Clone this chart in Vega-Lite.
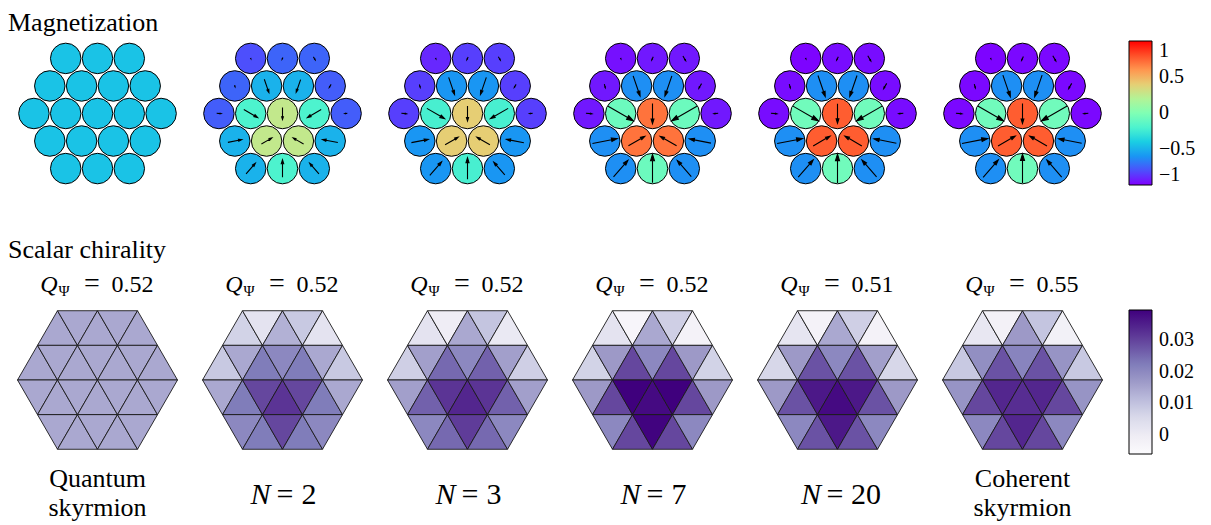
{
  "$schema": "https://vega.github.io/schema/vega-lite/v6.json",
  "background": "white",
  "padding": {"top": 10, "left": 5, "right": 5, "bottom": 0},
  "config": {
    "view": {"stroke": null},
    "font": "Times New Roman",
    "title": {"font": "Times New Roman", "fontSize": 26, "fontWeight": "normal", "anchor": "start", "color": "black", "offset": 0, "dx": 3},
    "text": {"font": "Times New Roman", "color": "black"},
    "legend": {"labelFont": "Times New Roman"}
  },
  "datasets": {
    "sites": [
      {"panel":1,"x":-1,"y":1.732,"mz":-0.44,"m":0,"ang":0},
      {"panel":1,"x":0,"y":1.732,"mz":-0.44,"m":0,"ang":0},
      {"panel":1,"x":1,"y":1.732,"mz":-0.44,"m":0,"ang":0},
      {"panel":1,"x":-1.5,"y":0.866,"mz":-0.44,"m":0,"ang":0},
      {"panel":1,"x":-0.5,"y":0.866,"mz":-0.44,"m":0,"ang":0},
      {"panel":1,"x":0.5,"y":0.866,"mz":-0.44,"m":0,"ang":0},
      {"panel":1,"x":1.5,"y":0.866,"mz":-0.44,"m":0,"ang":0},
      {"panel":1,"x":-2,"y":0,"mz":-0.44,"m":0,"ang":0},
      {"panel":1,"x":-1,"y":0,"mz":-0.44,"m":0,"ang":0},
      {"panel":1,"x":0,"y":0,"mz":-0.44,"m":0,"ang":0},
      {"panel":1,"x":1,"y":0,"mz":-0.44,"m":0,"ang":0},
      {"panel":1,"x":2,"y":0,"mz":-0.44,"m":0,"ang":0},
      {"panel":1,"x":-1.5,"y":-0.866,"mz":-0.44,"m":0,"ang":0},
      {"panel":1,"x":-0.5,"y":-0.866,"mz":-0.44,"m":0,"ang":0},
      {"panel":1,"x":0.5,"y":-0.866,"mz":-0.44,"m":0,"ang":0},
      {"panel":1,"x":1.5,"y":-0.866,"mz":-0.44,"m":0,"ang":0},
      {"panel":1,"x":-1,"y":-1.732,"mz":-0.44,"m":0,"ang":0},
      {"panel":1,"x":0,"y":-1.732,"mz":-0.44,"m":0,"ang":0},
      {"panel":1,"x":1,"y":-1.732,"mz":-0.44,"m":0,"ang":0},

      {"panel":2,"x":-1,"y":1.732,"mz":-0.80,"m":0.02,"ang":157},
      {"panel":2,"x":0,"y":1.732,"mz":-0.74,"m":0.06,"ang":205},
      {"panel":2,"x":1,"y":1.732,"mz":-0.74,"m":0.12,"ang":150},
      {"panel":2,"x":-1.5,"y":0.866,"mz":-0.74,"m":0.06,"ang":165},
      {"panel":2,"x":-0.5,"y":0.866,"mz":-0.50,"m":0.47,"ang":161},
      {"panel":2,"x":0.5,"y":0.866,"mz":-0.50,"m":0.45,"ang":199},
      {"panel":2,"x":1.5,"y":0.866,"mz":-0.76,"m":0.12,"ang":210},
      {"panel":2,"x":-2,"y":0,"mz":-0.76,"m":0.15,"ang":95},
      {"panel":2,"x":-1,"y":0,"mz":-0.20,"m":0.53,"ang":120},
      {"panel":2,"x":0,"y":0,"mz":0.26,"m":0.40,"ang":180},
      {"panel":2,"x":1,"y":0,"mz":-0.20,"m":0.53,"ang":240},
      {"panel":2,"x":2,"y":0,"mz":-0.76,"m":0.08,"ang":265},
      {"panel":2,"x":-1.5,"y":-0.866,"mz":-0.50,"m":0.47,"ang":79},
      {"panel":2,"x":-0.5,"y":-0.866,"mz":0.26,"m":0.40,"ang":60},
      {"panel":2,"x":0.5,"y":-0.866,"mz":0.26,"m":0.40,"ang":300},
      {"panel":2,"x":1.5,"y":-0.866,"mz":-0.50,"m":0.52,"ang":281},
      {"panel":2,"x":-1,"y":-1.732,"mz":-0.50,"m":0.47,"ang":41},
      {"panel":2,"x":0,"y":-1.732,"mz":-0.20,"m":0.58,"ang":0},
      {"panel":2,"x":1,"y":-1.732,"mz":-0.50,"m":0.47,"ang":319},

      {"panel":3,"x":-1,"y":1.732,"mz":-0.90,"m":0.03,"ang":157},
      {"panel":3,"x":0,"y":1.732,"mz":-0.84,"m":0.10,"ang":205},
      {"panel":3,"x":1,"y":1.732,"mz":-0.84,"m":0.13,"ang":150},
      {"panel":3,"x":-1.5,"y":0.866,"mz":-0.84,"m":0.10,"ang":165},
      {"panel":3,"x":-0.5,"y":0.866,"mz":-0.60,"m":0.60,"ang":161},
      {"panel":3,"x":0.5,"y":0.866,"mz":-0.60,"m":0.60,"ang":199},
      {"panel":3,"x":1.5,"y":0.866,"mz":-0.84,"m":0.12,"ang":210},
      {"panel":3,"x":-2,"y":0,"mz":-0.84,"m":0.17,"ang":95},
      {"panel":3,"x":-1,"y":0,"mz":-0.22,"m":0.68,"ang":120},
      {"panel":3,"x":0,"y":0,"mz":0.40,"m":0.50,"ang":180},
      {"panel":3,"x":1,"y":0,"mz":-0.22,"m":0.68,"ang":240},
      {"panel":3,"x":2,"y":0,"mz":-0.84,"m":0.10,"ang":265},
      {"panel":3,"x":-1.5,"y":-0.866,"mz":-0.60,"m":0.57,"ang":79},
      {"panel":3,"x":-0.5,"y":-0.866,"mz":0.40,"m":0.50,"ang":60},
      {"panel":3,"x":0.5,"y":-0.866,"mz":0.40,"m":0.50,"ang":300},
      {"panel":3,"x":1.5,"y":-0.866,"mz":-0.60,"m":0.59,"ang":281},
      {"panel":3,"x":-1,"y":-1.732,"mz":-0.60,"m":0.60,"ang":41},
      {"panel":3,"x":0,"y":-1.732,"mz":-0.22,"m":0.72,"ang":0},
      {"panel":3,"x":1,"y":-1.732,"mz":-0.60,"m":0.56,"ang":319},

      {"panel":4,"x":-1,"y":1.732,"mz":-0.96,"m":0.03,"ang":157},
      {"panel":4,"x":0,"y":1.732,"mz":-0.94,"m":0.12,"ang":205},
      {"panel":4,"x":1,"y":1.732,"mz":-0.94,"m":0.18,"ang":150},
      {"panel":4,"x":-1.5,"y":0.866,"mz":-0.94,"m":0.12,"ang":165},
      {"panel":4,"x":-0.5,"y":0.866,"mz":-0.62,"m":0.71,"ang":161},
      {"panel":4,"x":0.5,"y":0.866,"mz":-0.62,"m":0.71,"ang":199},
      {"panel":4,"x":1.5,"y":0.866,"mz":-0.94,"m":0.18,"ang":210},
      {"panel":4,"x":-2,"y":0,"mz":-0.94,"m":0.20,"ang":95},
      {"panel":4,"x":-1,"y":0,"mz":-0.08,"m":0.97,"ang":120},
      {"panel":4,"x":0,"y":0,"mz":0.70,"m":0.67,"ang":180},
      {"panel":4,"x":1,"y":0,"mz":-0.08,"m":0.97,"ang":240},
      {"panel":4,"x":2,"y":0,"mz":-0.94,"m":0.14,"ang":265},
      {"panel":4,"x":-1.5,"y":-0.866,"mz":-0.62,"m":0.84,"ang":79},
      {"panel":4,"x":-0.5,"y":-0.866,"mz":0.70,"m":0.63,"ang":60},
      {"panel":4,"x":0.5,"y":-0.866,"mz":0.70,"m":0.63,"ang":300},
      {"panel":4,"x":1.5,"y":-0.866,"mz":-0.62,"m":0.73,"ang":281},
      {"panel":4,"x":-1,"y":-1.732,"mz":-0.62,"m":0.73,"ang":41},
      {"panel":4,"x":0,"y":-1.732,"mz":-0.08,"m":0.94,"ang":0},
      {"panel":4,"x":1,"y":-1.732,"mz":-0.62,"m":0.71,"ang":319},

      {"panel":5,"x":-1,"y":1.732,"mz":-0.99,"m":0.03,"ang":157},
      {"panel":5,"x":0,"y":1.732,"mz":-0.97,"m":0.13,"ang":205},
      {"panel":5,"x":1,"y":1.732,"mz":-0.97,"m":0.20,"ang":150},
      {"panel":5,"x":-1.5,"y":0.866,"mz":-0.97,"m":0.13,"ang":165},
      {"panel":5,"x":-0.5,"y":0.866,"mz":-0.62,"m":0.74,"ang":161},
      {"panel":5,"x":0.5,"y":0.866,"mz":-0.62,"m":0.74,"ang":199},
      {"panel":5,"x":1.5,"y":0.866,"mz":-0.97,"m":0.20,"ang":210},
      {"panel":5,"x":-2,"y":0,"mz":-0.97,"m":0.20,"ang":95},
      {"panel":5,"x":-1,"y":0,"mz":-0.06,"m":0.98,"ang":120},
      {"panel":5,"x":0,"y":0,"mz":0.76,"m":0.65,"ang":180},
      {"panel":5,"x":1,"y":0,"mz":-0.06,"m":0.98,"ang":240},
      {"panel":5,"x":2,"y":0,"mz":-0.97,"m":0.15,"ang":265},
      {"panel":5,"x":-1.5,"y":-0.866,"mz":-0.62,"m":0.86,"ang":79},
      {"panel":5,"x":-0.5,"y":-0.866,"mz":0.76,"m":0.65,"ang":60},
      {"panel":5,"x":0.5,"y":-0.866,"mz":0.76,"m":0.65,"ang":300},
      {"panel":5,"x":1.5,"y":-0.866,"mz":-0.62,"m":0.76,"ang":281},
      {"panel":5,"x":-1,"y":-1.732,"mz":-0.62,"m":0.76,"ang":41},
      {"panel":5,"x":0,"y":-1.732,"mz":-0.06,"m":0.96,"ang":0},
      {"panel":5,"x":1,"y":-1.732,"mz":-0.62,"m":0.74,"ang":319},

      {"panel":6,"x":-1,"y":1.732,"mz":-0.99,"m":0.03,"ang":157},
      {"panel":6,"x":0,"y":1.732,"mz":-0.98,"m":0.14,"ang":205},
      {"panel":6,"x":1,"y":1.732,"mz":-0.98,"m":0.20,"ang":150},
      {"panel":6,"x":-1.5,"y":0.866,"mz":-0.98,"m":0.13,"ang":165},
      {"panel":6,"x":-0.5,"y":0.866,"mz":-0.62,"m":0.76,"ang":161},
      {"panel":6,"x":0.5,"y":0.866,"mz":-0.62,"m":0.76,"ang":199},
      {"panel":6,"x":1.5,"y":0.866,"mz":-0.98,"m":0.20,"ang":210},
      {"panel":6,"x":-2,"y":0,"mz":-0.98,"m":0.20,"ang":95},
      {"panel":6,"x":-1,"y":0,"mz":-0.06,"m":0.99,"ang":120},
      {"panel":6,"x":0,"y":0,"mz":0.76,"m":0.66,"ang":180},
      {"panel":6,"x":1,"y":0,"mz":-0.06,"m":0.99,"ang":240},
      {"panel":6,"x":2,"y":0,"mz":-0.98,"m":0.15,"ang":265},
      {"panel":6,"x":-1.5,"y":-0.866,"mz":-0.62,"m":0.87,"ang":79},
      {"panel":6,"x":-0.5,"y":-0.866,"mz":0.76,"m":0.66,"ang":60},
      {"panel":6,"x":0.5,"y":-0.866,"mz":0.76,"m":0.66,"ang":300},
      {"panel":6,"x":1.5,"y":-0.866,"mz":-0.62,"m":0.78,"ang":281},
      {"panel":6,"x":-1,"y":-1.732,"mz":-0.62,"m":0.77,"ang":41},
      {"panel":6,"x":0,"y":-1.732,"mz":-0.06,"m":0.97,"ang":0},
      {"panel":6,"x":1,"y":-1.732,"mz":-0.62,"m":0.75,"ang":319}
    ],
    "plaquettes": [
      {"panel":1,"kind":"lab","Q":0.52,"name":"Quantum\nskyrmion"},
      {"panel":2,"kind":"lab","Q":0.52,"N":2},
      {"panel":3,"kind":"lab","Q":0.52,"N":3},
      {"panel":4,"kind":"lab","Q":0.52,"N":7},
      {"panel":5,"kind":"lab","Q":0.51,"N":20},
      {"panel":6,"kind":"lab","Q":0.55,"name":"Coherent\nskyrmion"},

      {"panel":1,"kind":"tri","x":-1,"y":1.299,"dir":"triangle-up","chi":0.0145},
      {"panel":1,"kind":"tri","x":-0.5,"y":1.299,"dir":"triangle-down","chi":0.0145},
      {"panel":1,"kind":"tri","x":0,"y":1.299,"dir":"triangle-up","chi":0.0145},
      {"panel":1,"kind":"tri","x":0.5,"y":1.299,"dir":"triangle-down","chi":0.0145},
      {"panel":1,"kind":"tri","x":1,"y":1.299,"dir":"triangle-up","chi":0.0145},
      {"panel":1,"kind":"tri","x":-1.5,"y":0.433,"dir":"triangle-up","chi":0.0145},
      {"panel":1,"kind":"tri","x":-1,"y":0.433,"dir":"triangle-down","chi":0.0145},
      {"panel":1,"kind":"tri","x":-0.5,"y":0.433,"dir":"triangle-up","chi":0.0145},
      {"panel":1,"kind":"tri","x":0,"y":0.433,"dir":"triangle-down","chi":0.0145},
      {"panel":1,"kind":"tri","x":0.5,"y":0.433,"dir":"triangle-up","chi":0.0145},
      {"panel":1,"kind":"tri","x":1,"y":0.433,"dir":"triangle-down","chi":0.0145},
      {"panel":1,"kind":"tri","x":1.5,"y":0.433,"dir":"triangle-up","chi":0.0145},
      {"panel":1,"kind":"tri","x":-1.5,"y":-0.433,"dir":"triangle-down","chi":0.0145},
      {"panel":1,"kind":"tri","x":-1,"y":-0.433,"dir":"triangle-up","chi":0.0145},
      {"panel":1,"kind":"tri","x":-0.5,"y":-0.433,"dir":"triangle-down","chi":0.0145},
      {"panel":1,"kind":"tri","x":0,"y":-0.433,"dir":"triangle-up","chi":0.0145},
      {"panel":1,"kind":"tri","x":0.5,"y":-0.433,"dir":"triangle-down","chi":0.0145},
      {"panel":1,"kind":"tri","x":1,"y":-0.433,"dir":"triangle-up","chi":0.0145},
      {"panel":1,"kind":"tri","x":1.5,"y":-0.433,"dir":"triangle-down","chi":0.0145},
      {"panel":1,"kind":"tri","x":-1,"y":-1.299,"dir":"triangle-down","chi":0.0145},
      {"panel":1,"kind":"tri","x":-0.5,"y":-1.299,"dir":"triangle-up","chi":0.0145},
      {"panel":1,"kind":"tri","x":0,"y":-1.299,"dir":"triangle-down","chi":0.0145},
      {"panel":1,"kind":"tri","x":0.5,"y":-1.299,"dir":"triangle-up","chi":0.0145},
      {"panel":1,"kind":"tri","x":1,"y":-1.299,"dir":"triangle-down","chi":0.0145},

      {"panel":2,"kind":"tri","x":-1,"y":1.299,"dir":"triangle-up","chi":0.0068},
      {"panel":2,"kind":"tri","x":-0.5,"y":1.299,"dir":"triangle-down","chi":0.0026},
      {"panel":2,"kind":"tri","x":0,"y":1.299,"dir":"triangle-up","chi":0.013},
      {"panel":2,"kind":"tri","x":0.5,"y":1.299,"dir":"triangle-down","chi":0.0088},
      {"panel":2,"kind":"tri","x":1,"y":1.299,"dir":"triangle-up","chi":0.0026},
      {"panel":2,"kind":"tri","x":-1.5,"y":0.433,"dir":"triangle-up","chi":0.0088},
      {"panel":2,"kind":"tri","x":-1,"y":0.433,"dir":"triangle-down","chi":0.0145},
      {"panel":2,"kind":"tri","x":-0.5,"y":0.433,"dir":"triangle-up","chi":0.0224},
      {"panel":2,"kind":"tri","x":0,"y":0.433,"dir":"triangle-down","chi":0.0202},
      {"panel":2,"kind":"tri","x":0.5,"y":0.433,"dir":"triangle-up","chi":0.0224},
      {"panel":2,"kind":"tri","x":1,"y":0.433,"dir":"triangle-down","chi":0.0145},
      {"panel":2,"kind":"tri","x":1.5,"y":0.433,"dir":"triangle-up","chi":0.0088},
      {"panel":2,"kind":"tri","x":-1.5,"y":-0.433,"dir":"triangle-down","chi":0.0145},
      {"panel":2,"kind":"tri","x":-1,"y":-0.433,"dir":"triangle-up","chi":0.0224},
      {"panel":2,"kind":"tri","x":-0.5,"y":-0.433,"dir":"triangle-down","chi":0.0295},
      {"panel":2,"kind":"tri","x":0,"y":-0.433,"dir":"triangle-up","chi":0.032},
      {"panel":2,"kind":"tri","x":0.5,"y":-0.433,"dir":"triangle-down","chi":0.0295},
      {"panel":2,"kind":"tri","x":1,"y":-0.433,"dir":"triangle-up","chi":0.0224},
      {"panel":2,"kind":"tri","x":1.5,"y":-0.433,"dir":"triangle-down","chi":0.0145},
      {"panel":2,"kind":"tri","x":-1,"y":-1.299,"dir":"triangle-down","chi":0.0202},
      {"panel":2,"kind":"tri","x":-0.5,"y":-1.299,"dir":"triangle-up","chi":0.0224},
      {"panel":2,"kind":"tri","x":0,"y":-1.299,"dir":"triangle-down","chi":0.0295},
      {"panel":2,"kind":"tri","x":0.5,"y":-1.299,"dir":"triangle-up","chi":0.0224},
      {"panel":2,"kind":"tri","x":1,"y":-1.299,"dir":"triangle-down","chi":0.0202},

      {"panel":3,"kind":"tri","x":-1,"y":1.299,"dir":"triangle-up","chi":0.0026},
      {"panel":3,"kind":"tri","x":-0.5,"y":1.299,"dir":"triangle-down","chi":-0.0003},
      {"panel":3,"kind":"tri","x":0,"y":1.299,"dir":"triangle-up","chi":0.0145},
      {"panel":3,"kind":"tri","x":0.5,"y":1.299,"dir":"triangle-down","chi":0.0095},
      {"panel":3,"kind":"tri","x":1,"y":1.299,"dir":"triangle-up","chi":0.001},
      {"panel":3,"kind":"tri","x":-1.5,"y":0.433,"dir":"triangle-up","chi":0.0075},
      {"panel":3,"kind":"tri","x":-1,"y":0.433,"dir":"triangle-down","chi":0.016},
      {"panel":3,"kind":"tri","x":-0.5,"y":0.433,"dir":"triangle-up","chi":0.025},
      {"panel":3,"kind":"tri","x":0,"y":0.433,"dir":"triangle-down","chi":0.0202},
      {"panel":3,"kind":"tri","x":0.5,"y":0.433,"dir":"triangle-up","chi":0.026},
      {"panel":3,"kind":"tri","x":1,"y":0.433,"dir":"triangle-down","chi":0.016},
      {"panel":3,"kind":"tri","x":1.5,"y":0.433,"dir":"triangle-up","chi":0.0075},
      {"panel":3,"kind":"tri","x":-1.5,"y":-0.433,"dir":"triangle-down","chi":0.016},
      {"panel":3,"kind":"tri","x":-1,"y":-0.433,"dir":"triangle-up","chi":0.026},
      {"panel":3,"kind":"tri","x":-0.5,"y":-0.433,"dir":"triangle-down","chi":0.032},
      {"panel":3,"kind":"tri","x":0,"y":-0.433,"dir":"triangle-up","chi":0.034},
      {"panel":3,"kind":"tri","x":0.5,"y":-0.433,"dir":"triangle-down","chi":0.032},
      {"panel":3,"kind":"tri","x":1,"y":-0.433,"dir":"triangle-up","chi":0.026},
      {"panel":3,"kind":"tri","x":1.5,"y":-0.433,"dir":"triangle-down","chi":0.016},
      {"panel":3,"kind":"tri","x":-1,"y":-1.299,"dir":"triangle-down","chi":0.0202},
      {"panel":3,"kind":"tri","x":-0.5,"y":-1.299,"dir":"triangle-up","chi":0.025},
      {"panel":3,"kind":"tri","x":0,"y":-1.299,"dir":"triangle-down","chi":0.031},
      {"panel":3,"kind":"tri","x":0.5,"y":-1.299,"dir":"triangle-up","chi":0.025},
      {"panel":3,"kind":"tri","x":1,"y":-1.299,"dir":"triangle-down","chi":0.0202},

      {"panel":4,"kind":"tri","x":-1,"y":1.299,"dir":"triangle-up","chi":0.0026},
      {"panel":4,"kind":"tri","x":-0.5,"y":1.299,"dir":"triangle-down","chi":-0.0037},
      {"panel":4,"kind":"tri","x":0,"y":1.299,"dir":"triangle-up","chi":0.0145},
      {"panel":4,"kind":"tri","x":0.5,"y":1.299,"dir":"triangle-down","chi":0.0075},
      {"panel":4,"kind":"tri","x":1,"y":1.299,"dir":"triangle-up","chi":-0.0024},
      {"panel":4,"kind":"tri","x":-1.5,"y":0.433,"dir":"triangle-up","chi":0.0068},
      {"panel":4,"kind":"tri","x":-1,"y":0.433,"dir":"triangle-down","chi":0.017},
      {"panel":4,"kind":"tri","x":-0.5,"y":0.433,"dir":"triangle-up","chi":0.0295},
      {"panel":4,"kind":"tri","x":0,"y":0.433,"dir":"triangle-down","chi":0.0202},
      {"panel":4,"kind":"tri","x":0.5,"y":0.433,"dir":"triangle-up","chi":0.0295},
      {"panel":4,"kind":"tri","x":1,"y":0.433,"dir":"triangle-down","chi":0.017},
      {"panel":4,"kind":"tri","x":1.5,"y":0.433,"dir":"triangle-up","chi":0.0068},
      {"panel":4,"kind":"tri","x":-1.5,"y":-0.433,"dir":"triangle-down","chi":0.017},
      {"panel":4,"kind":"tri","x":-1,"y":-0.433,"dir":"triangle-up","chi":0.0295},
      {"panel":4,"kind":"tri","x":-0.5,"y":-0.433,"dir":"triangle-down","chi":0.0395},
      {"panel":4,"kind":"tri","x":0,"y":-0.433,"dir":"triangle-up","chi":0.038},
      {"panel":4,"kind":"tri","x":0.5,"y":-0.433,"dir":"triangle-down","chi":0.0395},
      {"panel":4,"kind":"tri","x":1,"y":-0.433,"dir":"triangle-up","chi":0.0295},
      {"panel":4,"kind":"tri","x":1.5,"y":-0.433,"dir":"triangle-down","chi":0.017},
      {"panel":4,"kind":"tri","x":-1,"y":-1.299,"dir":"triangle-down","chi":0.0202},
      {"panel":4,"kind":"tri","x":-0.5,"y":-1.299,"dir":"triangle-up","chi":0.0295},
      {"panel":4,"kind":"tri","x":0,"y":-1.299,"dir":"triangle-down","chi":0.039},
      {"panel":4,"kind":"tri","x":0.5,"y":-1.299,"dir":"triangle-up","chi":0.0295},
      {"panel":4,"kind":"tri","x":1,"y":-1.299,"dir":"triangle-down","chi":0.0202},

      {"panel":5,"kind":"tri","x":-1,"y":1.299,"dir":"triangle-up","chi":0.002},
      {"panel":5,"kind":"tri","x":-0.5,"y":1.299,"dir":"triangle-down","chi":-0.0024},
      {"panel":5,"kind":"tri","x":0,"y":1.299,"dir":"triangle-up","chi":0.0145},
      {"panel":5,"kind":"tri","x":0.5,"y":1.299,"dir":"triangle-down","chi":0.0075},
      {"panel":5,"kind":"tri","x":1,"y":1.299,"dir":"triangle-up","chi":-0.0024},
      {"panel":5,"kind":"tri","x":-1.5,"y":0.433,"dir":"triangle-up","chi":0.006},
      {"panel":5,"kind":"tri","x":-1,"y":0.433,"dir":"triangle-down","chi":0.017},
      {"panel":5,"kind":"tri","x":-0.5,"y":0.433,"dir":"triangle-up","chi":0.028},
      {"panel":5,"kind":"tri","x":0,"y":0.433,"dir":"triangle-down","chi":0.0202},
      {"panel":5,"kind":"tri","x":0.5,"y":0.433,"dir":"triangle-up","chi":0.028},
      {"panel":5,"kind":"tri","x":1,"y":0.433,"dir":"triangle-down","chi":0.016},
      {"panel":5,"kind":"tri","x":1.5,"y":0.433,"dir":"triangle-up","chi":0.006},
      {"panel":5,"kind":"tri","x":-1.5,"y":-0.433,"dir":"triangle-down","chi":0.017},
      {"panel":5,"kind":"tri","x":-1,"y":-0.433,"dir":"triangle-up","chi":0.028},
      {"panel":5,"kind":"tri","x":-0.5,"y":-0.433,"dir":"triangle-down","chi":0.036},
      {"panel":5,"kind":"tri","x":0,"y":-0.433,"dir":"triangle-up","chi":0.038},
      {"panel":5,"kind":"tri","x":0.5,"y":-0.433,"dir":"triangle-down","chi":0.036},
      {"panel":5,"kind":"tri","x":1,"y":-0.433,"dir":"triangle-up","chi":0.028},
      {"panel":5,"kind":"tri","x":1.5,"y":-0.433,"dir":"triangle-down","chi":0.017},
      {"panel":5,"kind":"tri","x":-1,"y":-1.299,"dir":"triangle-down","chi":0.0202},
      {"panel":5,"kind":"tri","x":-0.5,"y":-1.299,"dir":"triangle-up","chi":0.028},
      {"panel":5,"kind":"tri","x":0,"y":-1.299,"dir":"triangle-down","chi":0.036},
      {"panel":5,"kind":"tri","x":0.5,"y":-1.299,"dir":"triangle-up","chi":0.028},
      {"panel":5,"kind":"tri","x":1,"y":-1.299,"dir":"triangle-down","chi":0.0202},

      {"panel":6,"kind":"tri","x":-1,"y":1.299,"dir":"triangle-up","chi":0.0015},
      {"panel":6,"kind":"tri","x":-0.5,"y":1.299,"dir":"triangle-down","chi":-0.002},
      {"panel":6,"kind":"tri","x":0,"y":1.299,"dir":"triangle-up","chi":0.017},
      {"panel":6,"kind":"tri","x":0.5,"y":1.299,"dir":"triangle-down","chi":0.0095},
      {"panel":6,"kind":"tri","x":1,"y":1.299,"dir":"triangle-up","chi":-0.0018},
      {"panel":6,"kind":"tri","x":-1.5,"y":0.433,"dir":"triangle-up","chi":0.0088},
      {"panel":6,"kind":"tri","x":-1,"y":0.433,"dir":"triangle-down","chi":0.019},
      {"panel":6,"kind":"tri","x":-0.5,"y":0.433,"dir":"triangle-up","chi":0.028},
      {"panel":6,"kind":"tri","x":0,"y":0.433,"dir":"triangle-down","chi":0.021},
      {"panel":6,"kind":"tri","x":0.5,"y":0.433,"dir":"triangle-up","chi":0.028},
      {"panel":6,"kind":"tri","x":1,"y":0.433,"dir":"triangle-down","chi":0.018},
      {"panel":6,"kind":"tri","x":1.5,"y":0.433,"dir":"triangle-up","chi":0.0088},
      {"panel":6,"kind":"tri","x":-1.5,"y":-0.433,"dir":"triangle-down","chi":0.018},
      {"panel":6,"kind":"tri","x":-1,"y":-0.433,"dir":"triangle-up","chi":0.0295},
      {"panel":6,"kind":"tri","x":-0.5,"y":-0.433,"dir":"triangle-down","chi":0.034},
      {"panel":6,"kind":"tri","x":0,"y":-0.433,"dir":"triangle-up","chi":0.033},
      {"panel":6,"kind":"tri","x":0.5,"y":-0.433,"dir":"triangle-down","chi":0.034},
      {"panel":6,"kind":"tri","x":1,"y":-0.433,"dir":"triangle-up","chi":0.0295},
      {"panel":6,"kind":"tri","x":1.5,"y":-0.433,"dir":"triangle-down","chi":0.018},
      {"panel":6,"kind":"tri","x":-1,"y":-1.299,"dir":"triangle-down","chi":0.0202},
      {"panel":6,"kind":"tri","x":-0.5,"y":-1.299,"dir":"triangle-up","chi":0.0295},
      {"panel":6,"kind":"tri","x":0,"y":-1.299,"dir":"triangle-down","chi":0.034},
      {"panel":6,"kind":"tri","x":0.5,"y":-1.299,"dir":"triangle-up","chi":0.0295},
      {"panel":6,"kind":"tri","x":1,"y":-1.299,"dir":"triangle-down","chi":0.0202}
    ]
  },
  "spacing": 22,
  "resolve": {"scale": {"color": "independent", "size": "independent"}, "legend": {"color": "independent"}},
  "vconcat": [
    {
      "title": {"text": "Magnetization"},
      "data": {"name": "sites"},
      "facet": {"column": {"field": "panel", "type": "ordinal", "header": null}},
      "spacing": 0,
      "spec": {
        "width": 185,
        "height": 175,
        "layer": [
          {
            "mark": {"type": "point", "shape": "circle", "filled": true, "size": 930, "stroke": "black", "strokeWidth": 1, "opacity": 1},
            "encoding": {
              "x": {"field": "x", "type": "quantitative", "scale": {"domain": [-2.909, 2.909], "nice": false, "zero": false}, "axis": null},
              "y": {"field": "y", "type": "quantitative", "scale": {"domain": [-3.192, 2.311], "nice": false, "zero": false}, "axis": null},
              "color": {
                "field": "mz", "type": "quantitative",
                "scale": {
                  "type": "linear", "interpolate": "rgb",
                  "domain": [-1, -0.8, -0.6, -0.4, -0.2, 0, 0.2, 0.4, 0.6, 0.8, 1],
                  "range": ["#8000ff", "#4d4ffc", "#1996f3", "#1acee3", "#4df3ce", "#80ffb4", "#b3f396", "#e6ce74", "#ff964f", "#ff4f28", "#ff0000"]
                },
                "legend": {
                  "title": null, "orient": "none", "legendX": 1124, "legendY": 1, "direction": "vertical",
                  "gradientLength": 144, "gradientThickness": 23, "gradientStrokeColor": "black", "gradientStrokeWidth": 1,
                  "values": [-1, -0.5, 0, 0.5, 1], "format": "~g",
                  "labelFont": "Times New Roman", "labelFontSize": 20, "labelColor": "black", "labelOffset": 7, "labelBaseline": "middle", "labelOverlap": false
                }
              }
            }
          },
          {
            "transform": [{"filter": "datum.m > 0"}],
            "mark": {"type": "point", "shape": "M0,1L0,-0.55M-0.14,-0.55L0,-1L0.14,-0.55Z", "filled": true, "fill": "black", "stroke": "black", "strokeWidth": 1.1, "opacity": 1},
            "encoding": {
              "x": {"field": "x", "type": "quantitative", "scale": {"domain": [-2.909, 2.909], "nice": false, "zero": false}, "axis": null},
              "y": {"field": "y", "type": "quantitative", "scale": {"domain": [-3.192, 2.311], "nice": false, "zero": false}, "axis": null},
              "angle": {"field": "ang", "type": "quantitative", "scale": null},
              "size": {"field": "m", "type": "quantitative", "scale": {"type": "pow", "exponent": 2, "domain": [0, 1], "range": [0, 900]}, "legend": null}
            }
          }
        ]
      }
    },
    {
      "title": {"text": "Scalar chirality"},
      "data": {"name": "plaquettes"},
      "facet": {"column": {"field": "panel", "type": "ordinal", "header": null}},
      "spacing": 0,
      "spec": {
        "width": 185,
        "height": 252,
        "layer": [
          {
            "transform": [{"filter": "datum.kind === 'tri'"}],
            "mark": {"type": "point", "filled": true, "size": 1600, "stroke": "#1a1a1a", "strokeWidth": 0.9, "opacity": 1},
            "encoding": {
              "x": {"field": "x", "type": "quantitative", "scale": {"domain": [-2.3125, 2.3125], "nice": false, "zero": false}, "axis": null},
              "y": {"field": "y", "type": "quantitative", "scale": {"domain": [-3.475, 2.825], "nice": false, "zero": false}, "axis": null},
              "shape": {"field": "dir", "type": "nominal", "scale": null},
              "color": {
                "field": "chi", "type": "quantitative",
                "scale": {
                  "type": "linear", "interpolate": "rgb",
                  "domain": [-0.006, -0.0003125, 0.005375, 0.0110625, 0.01675, 0.0224375, 0.028125, 0.0338125, 0.0395],
                  "range": ["#fcfbfd", "#efedf5", "#dadaeb", "#bcbddc", "#9e9ac8", "#807dba", "#6a51a3", "#54278f", "#3f007d"]
                },
                "legend": {
                  "title": null, "orient": "none", "legendX": 1124, "legendY": 43, "direction": "vertical",
                  "gradientLength": 144, "gradientThickness": 23, "gradientStrokeColor": "black", "gradientStrokeWidth": 1,
                  "values": [0, 0.01, 0.02, 0.03], "format": "~g",
                  "labelFont": "Times New Roman", "labelFontSize": 20, "labelColor": "black", "labelOffset": 7, "labelBaseline": "middle", "labelOverlap": false
                }
              }
            }
          },
          {
            "transform": [{"filter": "datum.kind === 'lab'"}],
            "mark": {"type": "text", "text": "Q", "font": "Times New Roman", "fontStyle": "italic", "fontSize": 24, "align": "right", "baseline": "alphabetic", "dx": -40},
            "encoding": {
              "x": {"datum": 0, "type": "quantitative", "scale": {"domain": [-2.3125, 2.3125], "nice": false, "zero": false}},
              "y": {"datum": 2.2, "type": "quantitative", "scale": {"domain": [-3.475, 2.825], "nice": false, "zero": false}}
            }
          },
          {
            "transform": [{"filter": "datum.kind === 'lab'"}],
            "mark": {"type": "text", "text": "Ψ", "font": "Times New Roman", "fontSize": 15, "align": "left", "baseline": "alphabetic", "dx": -39, "dy": 4},
            "encoding": {
              "x": {"datum": 0, "type": "quantitative", "scale": {"domain": [-2.3125, 2.3125], "nice": false, "zero": false}},
              "y": {"datum": 2.2, "type": "quantitative", "scale": {"domain": [-3.475, 2.825], "nice": false, "zero": false}}
            }
          },
          {
            "transform": [{"filter": "datum.kind === 'lab'"}],
            "mark": {"type": "text", "text": "=", "font": "Times New Roman", "fontSize": 28, "align": "center", "baseline": "alphabetic", "dx": -5.5},
            "encoding": {
              "x": {"datum": 0, "type": "quantitative", "scale": {"domain": [-2.3125, 2.3125], "nice": false, "zero": false}},
              "y": {"datum": 2.2, "type": "quantitative", "scale": {"domain": [-3.475, 2.825], "nice": false, "zero": false}}
            }
          },
          {
            "transform": [{"filter": "datum.kind === 'lab'"}],
            "mark": {"type": "text", "font": "Times New Roman", "fontSize": 24, "align": "left", "baseline": "alphabetic", "dx": 14},
            "encoding": {
              "x": {"datum": 0, "type": "quantitative", "scale": {"domain": [-2.3125, 2.3125], "nice": false, "zero": false}},
              "y": {"datum": 2.2, "type": "quantitative", "scale": {"domain": [-3.475, 2.825], "nice": false, "zero": false}},
              "text": {"field": "Q", "type": "quantitative", "format": ".2f"}
            }
          },
          {
            "transform": [{"filter": "datum.kind === 'lab' && isValid(datum.name)"}],
            "mark": {"type": "text", "font": "Times New Roman", "fontSize": 26, "align": "center", "baseline": "alphabetic", "lineBreak": "\n", "lineHeight": 29},
            "encoding": {
              "x": {"datum": 0, "type": "quantitative", "scale": {"domain": [-2.3125, 2.3125], "nice": false, "zero": false}},
              "y": {"datum": -2.675, "type": "quantitative", "scale": {"domain": [-3.475, 2.825], "nice": false, "zero": false}},
              "text": {"field": "name", "type": "nominal"}
            }
          },
          {
            "transform": [{"filter": "datum.kind === 'lab' && isValid(datum.N)"}],
            "mark": {"type": "text", "text": "N", "font": "Times New Roman", "fontStyle": "italic", "fontSize": 30, "align": "right", "baseline": "alphabetic", "dx": {"expr": "datum.N >= 10 ? -16.5 : -12"}},
            "encoding": {
              "x": {"datum": 0, "type": "quantitative", "scale": {"domain": [-2.3125, 2.3125], "nice": false, "zero": false}},
              "y": {"datum": -3.1, "type": "quantitative", "scale": {"domain": [-3.475, 2.825], "nice": false, "zero": false}}
            }
          },
          {
            "transform": [{"filter": "datum.kind === 'lab' && isValid(datum.N)"}],
            "mark": {"type": "text", "text": "=", "font": "Times New Roman", "fontSize": 30, "align": "center", "baseline": "alphabetic", "dx": {"expr": "datum.N >= 10 ? -2.5 : 2.5"}},
            "encoding": {
              "x": {"datum": 0, "type": "quantitative", "scale": {"domain": [-2.3125, 2.3125], "nice": false, "zero": false}},
              "y": {"datum": -3.1, "type": "quantitative", "scale": {"domain": [-3.475, 2.825], "nice": false, "zero": false}}
            }
          },
          {
            "transform": [{"filter": "datum.kind === 'lab' && isValid(datum.N)"}],
            "mark": {"type": "text", "font": "Times New Roman", "fontSize": 30, "align": "left", "baseline": "alphabetic", "dx": {"expr": "datum.N >= 10 ? 13.5 : 19"}},
            "encoding": {
              "x": {"datum": 0, "type": "quantitative", "scale": {"domain": [-2.3125, 2.3125], "nice": false, "zero": false}},
              "y": {"datum": -3.1, "type": "quantitative", "scale": {"domain": [-3.475, 2.825], "nice": false, "zero": false}},
              "text": {"field": "N", "type": "quantitative"}
            }
          }
        ]
      }
    }
  ]
}
